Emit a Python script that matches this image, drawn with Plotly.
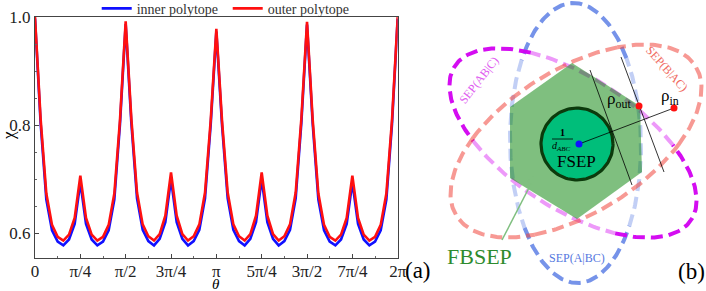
import math
import plotly.graph_objects as go

# ---------------- data for panel (a) ----------------
theta_index = list(range(65))          # grid of theta = k * pi/32
theta = [k * math.pi / 32 for k in theta_index]

chi_outer = [
    1.000, 0.810, 0.673, 0.615, 0.593, 0.586, 0.597, 0.628, 0.706, 0.628, 0.597, 0.586, 0.593, 0.615, 0.673, 0.810,
    0.992, 0.812, 0.675, 0.616, 0.594, 0.586, 0.598, 0.632, 0.712, 0.632, 0.598, 0.586, 0.594, 0.616, 0.675, 0.808,
    0.978, 0.808, 0.675, 0.616, 0.594, 0.586, 0.598, 0.632, 0.712, 0.632, 0.598, 0.586, 0.594, 0.616, 0.675, 0.812,
    0.991, 0.810, 0.673, 0.615, 0.593, 0.586, 0.597, 0.628, 0.706, 0.628, 0.597, 0.586, 0.593, 0.615, 0.673, 0.810,
    1.000]

chi_inner = [
    0.997, 0.802, 0.662, 0.605, 0.584, 0.577, 0.588, 0.617, 0.694, 0.617, 0.588, 0.577, 0.584, 0.605, 0.662, 0.802,
    0.987, 0.804, 0.664, 0.606, 0.585, 0.577, 0.589, 0.620, 0.700, 0.620, 0.589, 0.577, 0.585, 0.606, 0.664, 0.800,
    0.973, 0.800, 0.664, 0.606, 0.585, 0.577, 0.589, 0.620, 0.700, 0.620, 0.589, 0.577, 0.585, 0.606, 0.664, 0.804,
    0.986, 0.802, 0.662, 0.605, 0.584, 0.577, 0.588, 0.617, 0.694, 0.617, 0.588, 0.577, 0.584, 0.605, 0.662, 0.802,
    0.997]

x_tick_vals = [k * math.pi / 4 for k in range(9)]
x_tick_text = ["0", "π/4", "π/2", "3π/4", "π", "5π/4", "3π/2", "7π/4", "2π"]
y_tick_vals = [0.6, 0.8, 1.0]
y_tick_text = ["0.6", "0.8", "1.0"]
series_names = ["inner polytope", "outer polytope"]

# ---------------- geometry for panel (b) (pixel-like coordinates) ----------------
# ellipses: (cx, cy, semi-major, semi-minor, angle deg, strong colour, light colour)
ellipses = [
    (575.5, 143, 140, 65.5, 91, "rgba(65,105,225,0.72)", "rgba(65,105,225,0.32)"),
    (573, 143, 141, 66, 147, "rgba(210,0,240,0.95)", "rgba(210,0,240,0.40)"),
    (576, 141, 141, 72, 32, "rgba(240,70,60,0.55)", "rgba(240,70,60,0.55)"),
]
hexagon_x = [572, 640, 642, 577, 510, 510, 572]
hexagon_y = [63, 106, 172, 219, 178, 107, 63]
circle_c = (577, 144)
circle_r = 36
center_pt = (579, 144)
rho_out = (639, 106)
rho_in = (674, 108)
tangent_lines = [((590, 70), (632, 185)), ((621, 57), (664, 172))]

SERIF = "Liberation Serif"

fig = go.Figure()

# panel (a) curves
fig.add_trace(go.Scatter(x=theta, y=chi_inner, mode="lines", name=series_names[0],
                         line=dict(color="#1010ff", width=2.6), xaxis="x", yaxis="y"))
fig.add_trace(go.Scatter(x=theta, y=chi_outer, mode="lines", name=series_names[1],
                         line=dict(color="#ff1010", width=2.6), xaxis="x", yaxis="y"))


def ellipse_pts(cx, cy, a, b, phi, t0, t1, n=80):
    xs, ys = [], []
    p = math.radians(phi)
    for i in range(n + 1):
        t = t0 + (t1 - t0) * i / n
        X = a * math.cos(t) * math.cos(p) - b * math.sin(t) * math.sin(p)
        Y = a * math.cos(t) * math.sin(p) + b * math.sin(t) * math.cos(p)
        xs.append(cx + X)
        ys.append(cy - Y)
    return xs, ys


DASH = "12px,6px"
thr = math.acos(0.6)
for (cx, cy, a, b, phi, cs, cl) in ellipses:
    arcs = [(-thr, thr, cs), (thr, math.pi - thr, cl),
            (math.pi - thr, math.pi + thr, cs), (math.pi + thr, 2 * math.pi - thr, cl)]
    for (t0, t1, col) in arcs:
        xs, ys = ellipse_pts(cx, cy, a, b, phi, t0, t1)
        fig.add_trace(go.Scatter(x=xs, y=ys, mode="lines", showlegend=False, hoverinfo="skip",
                                 line=dict(color=col, width=4, dash=DASH), xaxis="x2", yaxis="y2"))

# hexagon FBSEP
fig.add_trace(go.Scatter(x=hexagon_x, y=hexagon_y, mode="lines", fill="toself",
                         fillcolor="rgba(0,128,0,0.5)", line=dict(width=0),
                         showlegend=False, hoverinfo="skip", xaxis="x2", yaxis="y2"))
# circle FSEP
cxs, cys = ellipse_pts(circle_c[0], circle_c[1], circle_r, circle_r, 0, 0, 2 * math.pi, 120)
fig.add_trace(go.Scatter(x=cxs, y=cys, mode="lines", fill="toself", fillcolor="rgb(0,190,122)",
                         line=dict(color="#0c3a0c", width=3.2),
                         showlegend=False, hoverinfo="skip", xaxis="x2", yaxis="y2"))
# thin black lines
for (p0, p1) in tangent_lines:
    fig.add_trace(go.Scatter(x=[p0[0], p1[0]], y=[p0[1], p1[1]], mode="lines",
                             line=dict(color="black", width=0.8), showlegend=False,
                             hoverinfo="skip", xaxis="x2", yaxis="y2"))
fig.add_trace(go.Scatter(x=[center_pt[0], rho_in[0]], y=[center_pt[1], rho_in[1]], mode="lines",
                         line=dict(color="black", width=0.8), showlegend=False,
                         hoverinfo="skip", xaxis="x2", yaxis="y2"))
# fraction bar
fig.add_trace(go.Scatter(x=[552, 573], y=[139, 139], mode="lines",
                         line=dict(color="black", width=0.8), showlegend=False,
                         hoverinfo="skip", xaxis="x2", yaxis="y2"))
# FBSEP arrow shaft
fig.add_trace(go.Scatter(x=[502, 533], y=[240, 180], mode="lines",
                         line=dict(color="#7fbf7f", width=1.5), showlegend=False,
                         hoverinfo="skip", xaxis="x2", yaxis="y2"))
# points
fig.add_trace(go.Scatter(x=[center_pt[0]], y=[center_pt[1]], mode="markers",
                         marker=dict(color="#1010ff", size=7), showlegend=False,
                         hoverinfo="skip", xaxis="x2", yaxis="y2"))
fig.add_trace(go.Scatter(x=[rho_out[0], rho_in[0]], y=[rho_out[1], rho_in[1]], mode="markers",
                         marker=dict(color="#ff1010", size=7), showlegend=False,
                         hoverinfo="skip", xaxis="x2", yaxis="y2"))

ann = []


def add_text(x, y, text, size, color="black", angle=0, ref="2"):
    ann.append(dict(x=x, y=y, xref="x" + ref, yref="y" + ref, text=text, showarrow=False,
                    textangle=angle, font=dict(family=SERIF, size=size, color=color)))


add_text(619, 100, "ρ<sub>out</sub>", 17)
add_text(670, 97, "ρ<sub>in</sub>", 17)
add_text(576, 161, "FSEP", 17)
add_text(562, 132, "<b>1</b>", 10)
add_text(561, 146, "<i>d<sub>ABC</sub></i>", 10)
add_text(479, 256, "FBSEP", 22, "#2e8b2e")
add_text(577, 258, "SEP(A|BC)", 12, "#5577e0")
add_text(479, 80, "SEP(AB|C)", 12, "#e060f0", -52)
add_text(667, 69, "SEP(B|AC)", 12, "#f06a60", 48)
add_text(418, 270, "(a)", 23)
add_text(691, 271, "(b)", 23)
# axis titles of panel (a)
add_text(216, 283.5, "<i>θ</i>", 15)
add_text(8, 136, "χ", 17, angle=-90)
# arrow head to FBSEP
ann.append(dict(x=535, y=175, xref="x2", yref="y2", ax=530, ay=185, axref="x2", ayref="y2",
                text="", showarrow=True, arrowhead=2, arrowsize=1.3, arrowwidth=1.5,
                arrowcolor="#7fbf7f"))

fig.update_layout(
    width=706, height=291,
    margin=dict(l=0, r=0, t=0, b=0, autoexpand=False),
    paper_bgcolor="white", plot_bgcolor="rgba(0,0,0,0)",
    font=dict(family=SERIF, color="#222"),
    annotations=ann,
    showlegend=True,
    legend=dict(orientation="h", x=0.137, y=1.025, xanchor="left", yanchor="top",
                bgcolor="rgba(0,0,0,0)", font=dict(family=SERIF, size=14, color="#333"),
                entrywidth=86, entrywidthmode="pixels", itemwidth=30),
    xaxis=dict(domain=[35 / 706, 397.7 / 706], range=[0, 2 * math.pi], anchor="y",
               tickvals=x_tick_vals, ticktext=x_tick_text, ticks="inside", ticklen=4,
               ticklabelstandoff=-2,
               tickcolor="#444", showline=True, linecolor="#444", linewidth=1, mirror=True,
               showgrid=False, zeroline=False, tickfont=dict(family=SERIF, size=17, color="#222"),
               minor=dict(tickvals=[k * math.pi / 8 for k in range(1, 16, 2)], ticks="inside",
                          ticklen=2, tickcolor="#666")),
    yaxis=dict(domain=[(291 - 258) / 291, (291 - 17) / 291], range=[0.5537, 1.0], anchor="x",
               tickvals=y_tick_vals, ticktext=y_tick_text, ticks="inside", ticklen=4,
               tickcolor="#444", showline=True, linecolor="#444", linewidth=1, mirror=True,
               showgrid=False, zeroline=False, tickfont=dict(family=SERIF, size=17, color="#222"),
               minor=dict(tickvals=[0.65, 0.7, 0.75, 0.85, 0.9, 0.95], ticks="inside",
                          ticklen=2, tickcolor="#666")),
    xaxis2=dict(domain=[0, 1], range=[0, 706], anchor="y2", visible=False, fixedrange=True),
    yaxis2=dict(domain=[0, 1], range=[291, 0], anchor="x2", visible=False, fixedrange=True),
)

fig.write_html("out.html", config={"displayModeBar": False},
               post_script="document.body.style.margin='0';document.body.style.overflow='hidden';")
